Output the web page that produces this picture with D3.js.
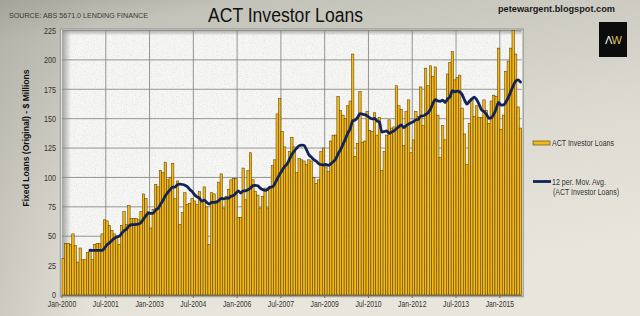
<!DOCTYPE html>
<html><head><meta charset="utf-8">
<script src="https://cdn.jsdelivr.net/npm/d3@7/dist/d3.min.js"></script>
<style>html,body{margin:0;padding:0;background:#dcdad0;}svg{display:block;font-family:"Liberation Sans",Arial,sans-serif;}</style>
</head><body>
<svg id="chart" width="640" height="316"></svg>
<script>
// ---- data ----
const title = "ACT Investor Loans";
const seriesName = "ACT Investor Loans";
const maName = ["12 per. Mov. Avg.", "(ACT Investor Loans)"];
const yTicks = [0, 25, 50, 75, 100, 125, 150, 175, 200, 225];
const xTickLabels = ["Jan-2000","Jul-2001","Jan-2003","Jul-2004","Jan-2006","Jul-2007","Jan-2009","Jul-2010","Jan-2012","Jul-2013","Jan-2015"];
const xTickStep = 18; // months between labelled ticks
// Monthly ACT investor loans ($m), Jan-2000 .. Sep-2015
const values = [
  31, 44, 44, 43, 52, 42, 28, 40, 30, 30, 36, 37,
  30, 43, 44, 44, 52, 64, 63, 59, 55, 52, 50, 43,
  59, 71, 60, 76, 65, 65, 65, 64, 71, 86, 82, 71,
  57, 73, 94, 92, 106, 104, 113, 98, 100, 112, 82, 97,
  60, 70, 87, 77, 78, 82, 80, 77, 88, 80, 92, 75,
  43, 87, 86, 80, 96, 103, 74, 84, 90, 98, 99, 99,
  66, 66, 108, 81, 106, 121, 98, 88, 85, 74, 84, 91,
  74, 91, 110, 115, 154, 167, 139, 126, 111, 122, 134, 126,
  104, 116, 115, 114, 111, 115, 114, 100, 95, 98, 122, 125,
  109, 105, 131, 136, 136, 169, 157, 153, 150, 161, 165, 205,
  118, 129, 173, 130, 131, 156, 140, 139, 155, 136, 151, 106,
  122, 136, 149, 142, 143, 178, 161, 158, 127, 156, 166, 121,
  132, 156, 152, 177, 144, 193, 178, 195, 186, 194, 153, 117,
  144, 132, 188, 198, 207, 183, 185, 187, 159, 137, 111, 146,
  167, 152, 161, 151, 151, 166, 157, 146, 165, 170, 169, 210,
  141, 153, 190, 199, 210, 225, 205, 160, 142
];
const maPeriod = 12;

// ---- layout ----
const svg = d3.select("#chart");
const W = 640, H = 316;
const plot = {l: 62, r: 521.7, t: 30.5, b: 295};
const barFill = "#f3b719", barStroke = "#574000", lineColor = "#13235a";

const defs = svg.append("defs");
const bg = defs.append("linearGradient").attr("id","bg").attr("x1","0").attr("y1","0").attr("x2","0.35").attr("y2","1");
bg.append("stop").attr("offset","0").attr("stop-color","#a9a89e");
bg.append("stop").attr("offset","0.12").attr("stop-color","#c3c2b8");
bg.append("stop").attr("offset","0.6").attr("stop-color","#dddbd1");
bg.append("stop").attr("offset","1").attr("stop-color","#e8e6dc");
const side = defs.append("linearGradient").attr("id","side").attr("x1","0").attr("x2","1");
side.append("stop").attr("offset","0").attr("stop-color","#9d9c93").attr("stop-opacity",0.35);
side.append("stop").attr("offset","0.15").attr("stop-color","#9d9c93").attr("stop-opacity",0);
const shL = defs.append("linearGradient").attr("id","shL").attr("x1","0").attr("x2","1");
shL.append("stop").attr("offset","0").attr("stop-color","#9a9a96").attr("stop-opacity",0.9);
shL.append("stop").attr("offset","1").attr("stop-color","#9a9a96").attr("stop-opacity",0);
const shT = defs.append("linearGradient").attr("id","shT").attr("x1","0").attr("x2","0").attr("y1","0").attr("y2","1");
shT.append("stop").attr("offset","0").attr("stop-color","#9a9a96").attr("stop-opacity",0.8);
shT.append("stop").attr("offset","1").attr("stop-color","#9a9a96").attr("stop-opacity",0);
const noise = defs.append("filter").attr("id","noise").attr("x","0").attr("y","0").attr("width","1").attr("height","1");
noise.append("feTurbulence").attr("type","fractalNoise").attr("baseFrequency","0.9").attr("numOctaves","2").attr("seed","4").attr("result","t");
noise.append("feColorMatrix").attr("in","t").attr("type","matrix")
  .attr("values","0 0 0 0 0.55  0 0 0 0 0.55  0 0 0 0 0.55  1.6 0 0 0 -0.75");

svg.append("rect").attr("width",W).attr("height",H).attr("fill","url(#bg)");
svg.append("rect").attr("width",W).attr("height",H).attr("fill","url(#side)");

// plot background
svg.append("rect").attr("x",plot.l-1.5).attr("y",plot.t-1.5).attr("width",plot.r-plot.l+3).attr("height",plot.b-plot.t+3)
  .attr("fill","#f6f6f4").attr("stroke","#a3a39e").attr("stroke-width",1.5);
svg.append("rect").attr("x",plot.l).attr("y",plot.t).attr("width",plot.r-plot.l).attr("height",plot.b-plot.t)
  .attr("filter","url(#noise)").attr("opacity",0.55);
svg.append("rect").attr("x",plot.l).attr("y",plot.t).attr("width",9).attr("height",plot.b-plot.t).attr("fill","url(#shL)");
svg.append("rect").attr("x",plot.l).attr("y",plot.t).attr("width",plot.r-plot.l).attr("height",5).attr("fill","url(#shT)");

// scales
const x = d3.scaleBand().domain(d3.range(values.length)).range([plot.l, plot.r]).padding(0);
const y = d3.scaleLinear().domain([0, 225]).range([plot.b, plot.t]);
const tickIdx = xTickLabels.map((_, k) => k * xTickStep);

// grid
const grid = svg.append("g");
grid.selectAll("line.h").data(yTicks.slice(1)).join("line")
  .attr("x1",plot.l).attr("x2",plot.r).attr("y1",d=>y(d)).attr("y2",d=>y(d))
  .attr("stroke","#8a8a86").attr("stroke-width",0.9);
grid.selectAll("line.v").data(tickIdx.slice(1)).join("line")
  .attr("x1",d=>x(d)).attr("x2",d=>x(d)).attr("y1",plot.t).attr("y2",plot.b)
  .attr("stroke","#8a8a86").attr("stroke-width",0.9);

// bars
svg.append("g").selectAll("rect").data(values).join("rect")
  .attr("x",(d,i)=>x(i)).attr("width",x.bandwidth())
  .attr("y",d=>y(d)).attr("height",d=>y(0)-y(d))
  .attr("fill",barFill).attr("stroke",barStroke).attr("stroke-width",0.55);

// moving average
const ma = values.map((v,i)=> i < maPeriod-1 ? null : d3.mean(values.slice(i-maPeriod+1, i+1)));
const line = d3.line().defined(d=>d!==null).x((d,i)=>x(i)+x.bandwidth()/2).y(d=>y(d)).curve(d3.curveMonotoneX);
svg.append("path").datum(ma).attr("d",line).attr("fill","none")
  .attr("stroke",lineColor).attr("stroke-width",2.8).attr("stroke-linejoin","round").attr("stroke-linecap","round");

// axes
const yAxis = d3.axisLeft(y).tickValues(yTicks).tickSize(0).tickPadding(6);
const gy = svg.append("g").attr("transform",`translate(${plot.l},0)`).call(yAxis);
gy.select(".domain").remove();
gy.selectAll("text").attr("font-size",8.5).attr("fill","#333").attr("font-family","Liberation Sans, Arial");

const xAxis = d3.axisBottom(x).tickValues(tickIdx).tickSize(3)
  .tickFormat((d)=> xTickLabels[d / xTickStep]);
const gx = svg.append("g").attr("transform",`translate(0,${plot.b})`).call(xAxis);
gx.selectAll(".tick").attr("transform", d=>`translate(${x(d)},0)`);
gx.select(".domain").attr("stroke","#6d6d6a").attr("d",`M${plot.l},0.5H${plot.r}`);
gx.selectAll(".tick line").attr("stroke","#6d6d6a");
gx.selectAll("text").attr("font-size",8.5).attr("fill","#333").attr("dy","0.71em").attr("y",6);

function squeeze(sel, f){ sel.each(function(){ const L=this.getComputedTextLength(); d3.select(this).attr("textLength",L*f).attr("lengthAdjust","spacingAndGlyphs"); }); }
squeeze(gy.selectAll("text"), 0.85);
squeeze(gx.selectAll("text"), 0.8);

// titles
svg.append("text").attr("x",208).attr("y",22).attr("font-size",20).attr("fill","#111")
  .attr("textLength",155).attr("lengthAdjust","spacingAndGlyphs").text(title);
svg.append("text").attr("x",9).attr("y",18).attr("font-size",7.2).attr("fill","#3a3a36")
  .attr("textLength",139).attr("lengthAdjust","spacingAndGlyphs").text("SOURCE: ABS 5671.0 LENDING FINANCE");
svg.append("text").attr("x",498).attr("y",12).attr("font-size",9.5).attr("font-weight","bold").attr("fill","#1a1a1a")
  .attr("textLength",117).attr("lengthAdjust","spacingAndGlyphs").text("petewargent.blogspot.com");

// logo
const logo = svg.append("g");
logo.append("rect").attr("x",599).attr("y",22).attr("width",28).attr("height",35).attr("fill","#0c0c0c");
logo.append("text").attr("x",605).attr("y",44).attr("font-size",11).attr("fill","#f2f2f2").text("Λ");
logo.append("text").attr("x",611.5).attr("y",44).attr("font-size",11).attr("fill","#d9c25a").text("W");

// y label
svg.append("text").attr("transform","translate(29,138) rotate(-90)").attr("text-anchor","middle")
  .attr("font-size",9.5).attr("font-weight","bold").attr("fill","#111")
  .attr("textLength",137).attr("lengthAdjust","spacingAndGlyphs").text("Fixed Loans (Original) - $ Millions");

// legend
const lg = svg.append("g").attr("font-size",8.3).attr("fill","#333");
lg.append("rect").attr("x",533).attr("y",141).attr("width",17).attr("height",4).attr("fill",barFill).attr("stroke",barStroke).attr("stroke-width",0.6);
lg.append("text").attr("x",552).attr("y",146).attr("textLength",62).attr("lengthAdjust","spacingAndGlyphs").text(seriesName);
lg.append("line").attr("x1",533).attr("x2",551).attr("y1",181.5).attr("y2",181.5).attr("stroke",lineColor).attr("stroke-width",2.8);
lg.append("text").attr("x",552).attr("y",185).attr("textLength",54).attr("lengthAdjust","spacingAndGlyphs").text(maName[0]);
lg.append("text").attr("x",553).attr("y",194.5).attr("textLength",66).attr("lengthAdjust","spacingAndGlyphs").text(maName[1]);
</script>
</body></html>
